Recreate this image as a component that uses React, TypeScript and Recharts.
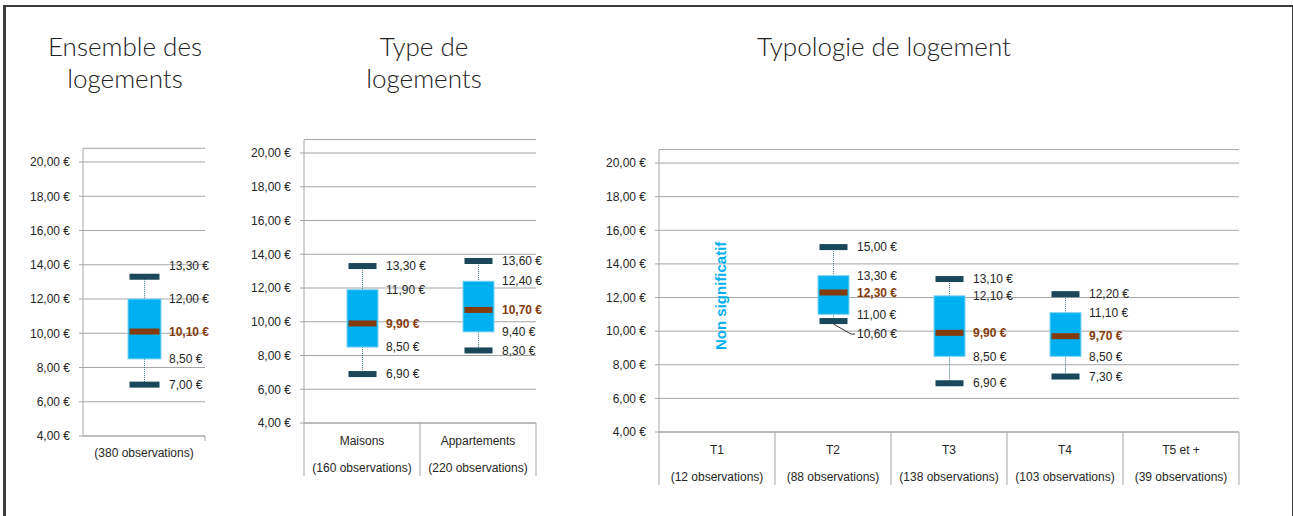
import React from "react"
import { BarChart, Bar, XAxis, YAxis, CartesianGrid, ReferenceDot } from "recharts"

// Ensemble des logements
const ensembleCats = ["(380 observations)"]
const ensembleMin = [7.0]
const ensembleQ1 = [8.5]
const ensembleMed = [10.1]
const ensembleQ3 = [12.0]
const ensembleMax = [13.3]

// Type de logements
const typeCats = ["Maisons", "Appartements"]
const typeObs = ["(160 observations)", "(220 observations)"]
const typeMin = [6.9, 8.3]
const typeQ1 = [8.5, 9.4]
const typeMed = [9.9, 10.7]
const typeQ3 = [11.9, 12.4]
const typeMax = [13.3, 13.6]

// Typologie de logement
const typoCats = ["T1", "T2", "T3", "T4", "T5 et +"]
const typoObs = ["(12 observations)", "(88 observations)", "(138 observations)", "(103 observations)", "(39 observations)"]
const typoMin = [null, 10.6, 6.9, 7.3, null]
const typoQ1 = [null, 11.0, 8.5, 8.5, null]
const typoMed = [null, 12.3, 9.9, 9.7, null]
const typoQ3 = [null, 13.3, 12.1, 11.1, null]
const typoMax = [null, 15.0, 13.1, 12.2, null]

const yTicks = [4, 6, 8, 10, 12, 14, 16, 18, 20]
const nonSignifCat = "T1"
const nonSignifY = 12.1

const BLUE = "#00B0F0"
const BROWN = "#843C0C"
const DARK = "#1A4759"
const GRID = "#A6A6A6"
const TEXT = "#262626"
const FONT = "'Liberation Sans', Arial, sans-serif"
const FS = 12

const euro = (v: number) => v.toFixed(2).replace(".", ",") + " €"

const buildRows = (cats: string[], obs: string[] | null, mins: any[], q1s: any[], meds: any[], q3s: any[], maxs: any[]) =>
  cats.map((cat, i) => ({
    cat,
    obs: obs ? obs[i] : null,
    min: mins[i],
    q1: q1s[i],
    med: meds[i],
    q3: q3s[i],
    max: maxs[i],
    range: mins[i] == null ? null : [mins[i], maxs[i]],
  }))

const ensembleData = buildRows(ensembleCats, null, ensembleMin, ensembleQ1, ensembleMed, ensembleQ3, ensembleMax)
const typeData = buildRows(typeCats, typeObs, typeMin, typeQ1, typeMed, typeQ3, typeMax)
const typoData = buildRows(typoCats, typoObs, typoMin, typoQ1, typoMed, typoQ3, typoMax)

// label nudges (px) for overlapping labels
const nudges: Record<string, Record<string, number>> = {
  "(380 observations)": { max: -11 },
  T2: { min: 13 },
}
const leaders: Record<string, string> = { T2: "min" }

const BoxShape = (props: any) => {
  const { x, y, width, height, payload } = props
  if (!payload || payload.min == null) return <g />
  const { min, q1, med, q3, max, cat } = payload
  const top = Math.min(y, y + height)
  const bot = Math.max(y, y + height)
  const py = (v: number) => top + ((max - v) / (max - min)) * (bot - top)
  const cx = x + width / 2
  const capW = width - 3
  const labelX = x + width + 8
  const nud = nudges[cat] || {}
  const items: [string, number][] = [["max", max], ["q3", q3], ["med", med], ["q1", q1], ["min", min]]
  return (
    <g>
      <line x1={cx} x2={cx} y1={py(max)} y2={py(q3)} stroke="#3C7890" strokeWidth={1} strokeDasharray="1 1" />
      <line x1={cx} x2={cx} y1={py(q1)} y2={py(min)} stroke="#3C7890" strokeWidth={1} strokeDasharray="1 1" />
      <rect x={x} y={py(q3)} width={width} height={py(q1) - py(q3)} fill={BLUE} stroke="#7FD3F3" strokeWidth={1} />
      <rect x={cx - capW / 2} y={py(med) - 3} width={capW} height={6} fill={BROWN} />
      <rect x={cx - capW / 2} y={py(max) - 3} width={capW} height={6} fill={DARK} />
      <rect x={cx - capW / 2} y={py(min) - 3} width={capW} height={6} fill={DARK} />
      {items.map(([k, v]) => {
        const ly = py(v) + (nud[k] || 0)
        const isMed = k === "med"
        return (
          <g key={k}>
            {leaders[cat] === k && (
              <polyline
                points={`${cx},${py(v) + 3} ${labelX - 6},${ly} ${labelX - 2},${ly}`}
                fill="none"
                stroke="#000"
                strokeWidth={0.8}
              />
            )}
            <text
              x={labelX}
              y={ly}
              dy="0.35em"
              fontSize={FS}
              fontFamily={FONT}
              fontWeight={isMed ? 700 : 400}
              fill={isMed ? BROWN : TEXT}
            >
              {euro(v)}
            </text>
          </g>
        )
      })}
    </g>
  )
}

const makeTick = (n: number, plotW: number, twoLines: boolean, divH: number) => (props: any) => {
  const { x, y, payload, index } = props
  const band = plotW / n
  const row = twoLines ? typeData.concat(typoData as any).find((r) => r.cat === payload.value) : null
  return (
    <g>
      {twoLines && <line x1={x - band / 2} x2={x - band / 2} y1={y} y2={y + divH} stroke={GRID} />}
      {index === n - 1 && <line x1={x + band / 2} x2={x + band / 2} y1={y} y2={y + divH} stroke={GRID} />}
      <text x={x} y={y + (twoLines ? 18 : 17)} dy="0.35em" textAnchor="middle" fontSize={FS} fontFamily={FONT} fill={TEXT}>
        {payload.value}
      </text>
      {twoLines && row && (
        <text x={x} y={y + 45} dy="0.35em" textAnchor="middle" fontSize={FS} fontFamily={FONT} fill={TEXT}>
          {row.obs}
        </text>
      )}
    </g>
  )
}

const NonSignif = (props: any) => {
  const { cx, cy } = props
  return (
    <text
      x={cx + 4}
      y={cy}
      transform={`rotate(-90, ${cx + 4}, ${cy})`}
      textAnchor="middle"
      dy="0.35em"
      fontSize={15}
      fontWeight={700}
      fontFamily={FONT}
      fill={BLUE}
    >
      Non significatif
    </text>
  )
}

const yAxisProps = {
  type: "number" as const,
  domain: [4, 20.8],
  ticks: yTicks,
  tickFormatter: euro,
  tick: { fontSize: FS, fill: TEXT, fontFamily: FONT },
  axisLine: { stroke: GRID },
  tickLine: { stroke: GRID },
  tickSize: 4,
  tickMargin: 9,
  allowDataOverflow: true,
}

const titleStyle: React.CSSProperties = {
  position: "absolute",
  textAlign: "center",
  fontFamily: "Lato, 'Open Sans', sans-serif",
  fontWeight: 300,
  fontSize: 26,
  lineHeight: "32px",
  height: 32,
  color: "#222",
  whiteSpace: "nowrap",
}

export default function App() {
  return (
    <div style={{ position: "absolute", left: 0, top: 0, width: 1293, height: 516, background: "#fff", overflow: "hidden" }}>
      <div
        style={{
          position: "absolute",
          left: 3,
          top: 5,
          width: 1286,
          height: 600,
          borderLeft: "3px solid #3C3C3C",
          borderTop: "2px solid #3C3C3C",
          borderRight: "2px solid #3C3C3C",
        }}
      />
      <div style={{ ...titleStyle, left: 25, top: 30, width: 200 }}>Ensemble des</div>
      <div style={{ ...titleStyle, left: 25, top: 62, width: 200 }}>logements</div>
      <div style={{ ...titleStyle, left: 324, top: 30, width: 200 }}>Type de</div>
      <div style={{ ...titleStyle, left: 324, top: 62, width: 200 }}>logements</div>
      <div style={{ ...titleStyle, left: 734, top: 30, width: 300 }}>Typologie de logement</div>

      <div style={{ position: "absolute", left: 0, top: 130 }}>
        <BarChart width={230} height={350} data={ensembleData} margin={{ top: 18.3, right: 25, bottom: 4, left: 0 }}>
          <CartesianGrid vertical={false} stroke={GRID} />
          <XAxis dataKey="cat" height={40} axisLine={{ stroke: GRID }} tickLine={false} tickSize={0} tickMargin={0} tick={makeTick(1, 122, false, 5)} interval={0} />
          <YAxis {...yAxisProps} width={83} />
          <Bar dataKey="range" barSize={33} shape={BoxShape} isAnimationActive={false} />
        </BarChart>
      </div>

      <div style={{ position: "absolute", left: 230, top: 130 }}>
        <BarChart width={320} height={360} data={typeData} margin={{ top: 9.5, right: 14, bottom: 7, left: 0 }}>
          <CartesianGrid vertical={false} stroke={GRID} />
          <XAxis dataKey="cat" height={60} axisLine={{ stroke: GRID }} tickLine={false} tickSize={0} tickMargin={0} tick={makeTick(2, 232, true, 53)} interval={0} />
          <YAxis {...yAxisProps} width={74} />
          <Bar dataKey="range" barSize={31} shape={BoxShape} isAnimationActive={false} />
        </BarChart>
      </div>

      <div style={{ position: "absolute", left: 590, top: 140 }}>
        <BarChart width={660} height={360} data={typoData} margin={{ top: 9.6, right: 11, bottom: 8, left: 0 }}>
          <CartesianGrid vertical={false} stroke={GRID} />
          <XAxis dataKey="cat" height={60} axisLine={{ stroke: GRID }} tickLine={false} tickSize={0} tickMargin={0} tick={makeTick(5, 580, true, 53)} interval={0} />
          <YAxis {...yAxisProps} width={69} />
          <Bar dataKey="range" barSize={31} shape={BoxShape} isAnimationActive={false} />
          <ReferenceDot x={nonSignifCat} y={nonSignifY} r={0} shape={NonSignif} />
        </BarChart>
      </div>
    </div>
  )
}
